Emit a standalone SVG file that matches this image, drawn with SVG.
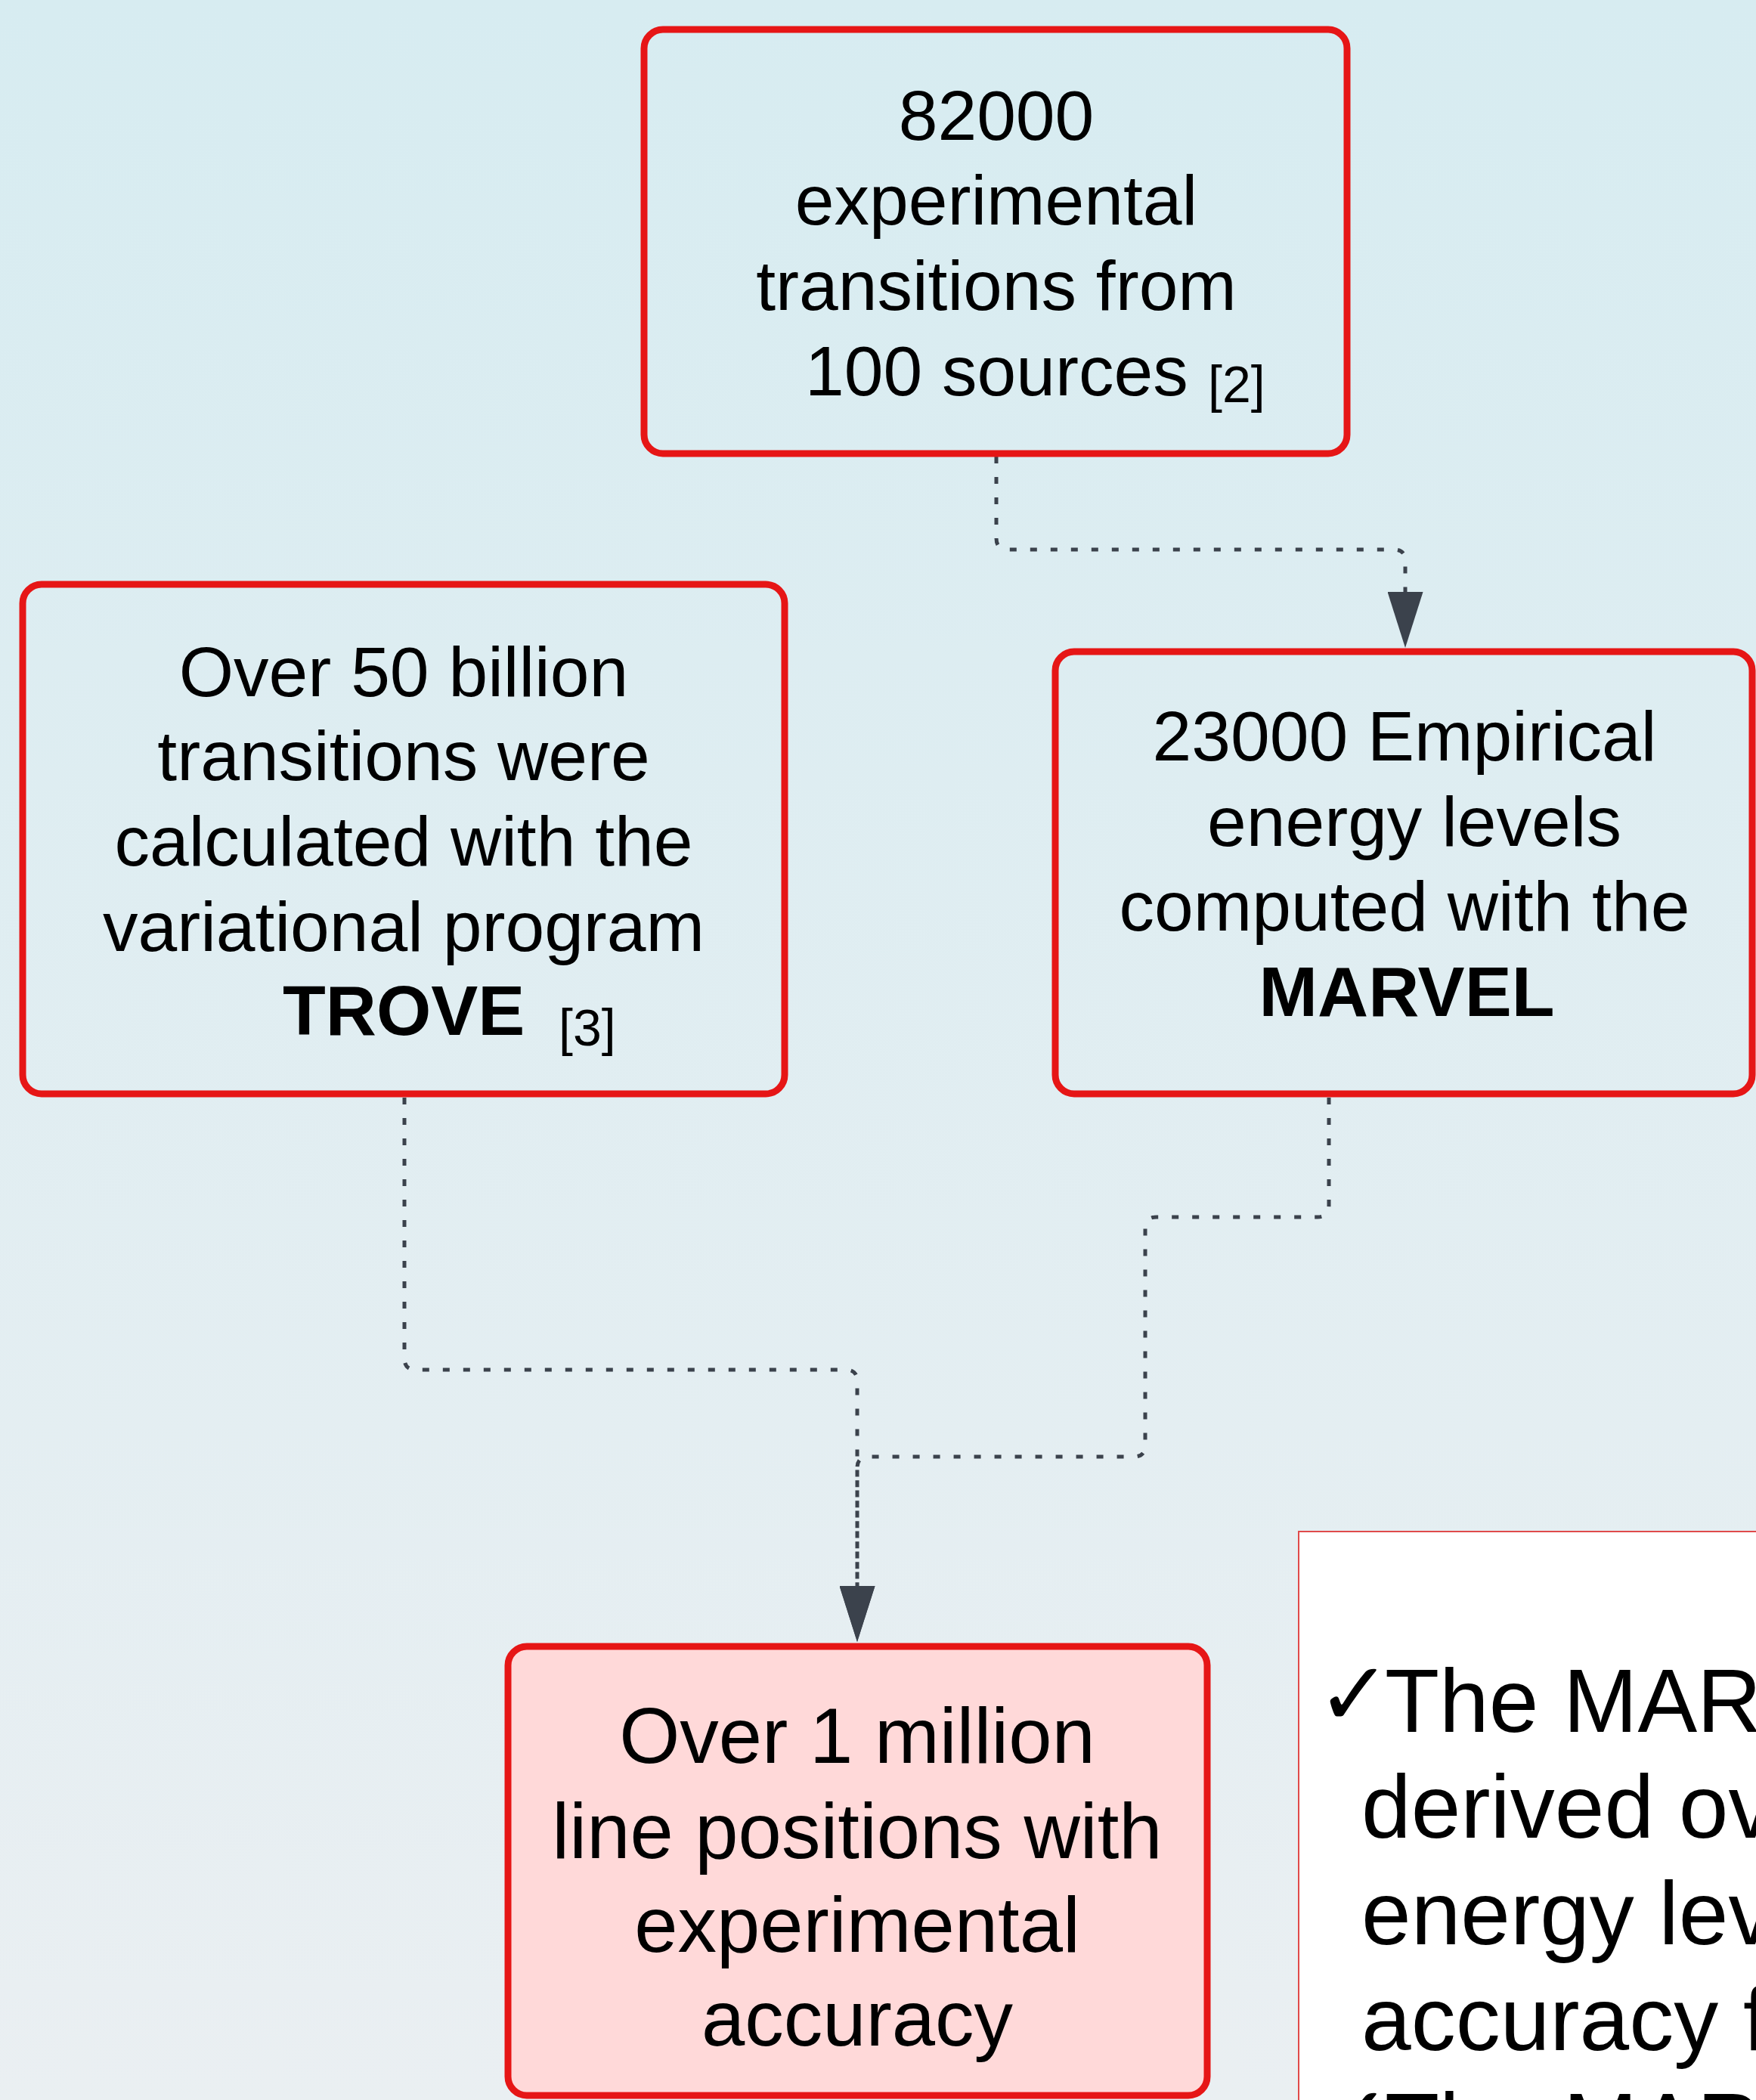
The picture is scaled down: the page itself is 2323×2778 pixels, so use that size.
<svg xmlns="http://www.w3.org/2000/svg" width="2323" height="2778" viewBox="0 0 2323 2778">
  <defs>
    <linearGradient id="bg" x1="0" y1="0" x2="0" y2="1">
      <stop offset="0" stop-color="#d7ecf1"/>
      <stop offset="1" stop-color="#eaeff2"/>
    </linearGradient>
    <marker id="arrow" markerUnits="userSpaceOnUse" viewBox="0 0 74 47" refX="0" refY="23.5" markerWidth="74" markerHeight="47" orient="auto">
      <path d="M0,0 L74,23.5 L0,47 Z" fill="#3b424c"/>
    </marker>
  </defs>
  <style>
    .node { fill: none; stroke: #e61616; stroke-width: 9; }
    .t { font-family: "Liberation Sans", Arial, sans-serif; font-size: 93px; fill: #000; text-anchor: middle; }
    .ref { font-family: "Liberation Sans", Arial, sans-serif; font-size: 68px; fill: #000; }
    .b { font-weight: bold; }
    .conn { fill: none; stroke: #3b424c; stroke-width: 5; stroke-dasharray: 9 18; }
    .note { font-family: "Liberation Sans", Arial, sans-serif; font-size: 118px; fill: #000; }
    .check { font-family: "DejaVu Sans", sans-serif; font-size: 118px; font-weight: bold; fill: #000; }
  </style>
  <rect x="0" y="0" width="2323" height="2778" fill="url(#bg)"/>

  <g id="connectors">
    <path class="conn" d="M1318,604 V712 Q1318,727 1333,727 H1844 Q1859,727 1859,742 V783" marker-end="url(#arrow)"/>
    <path class="conn" d="M535,1452 V1797 Q535,1812 550,1812 H1119 Q1134,1812 1134,1827 V2098" marker-end="url(#arrow)"/>
    <path class="conn" d="M1758,1452 V1595 Q1758,1610 1743,1610 H1530 Q1515,1610 1515,1625 V1912 Q1515,1927 1500,1927 H1149 Q1134,1927 1134,1942 V2098" marker-end="url(#arrow)"/>
  </g>

  <g id="node-experimental">
    <rect class="node" x="852" y="39" width="930" height="561" rx="25"/>
    <text class="t" x="1318" y="185">82000</text>
    <text class="t" x="1318" y="297">experimental</text>
    <text class="t" x="1318" y="410">transitions from</text>
    <text class="t" x="1065" y="523" style="text-anchor:start">100 sources</text>
    <text class="ref" x="1598" y="532">[2]</text>
  </g>

  <g id="node-trove">
    <rect class="node" x="30" y="773" width="1008" height="674" rx="25"/>
    <text class="t" x="534" y="921">Over 50 billion</text>
    <text class="t" x="534" y="1032">transitions were</text>
    <text class="t" x="534" y="1145">calculated with the</text>
    <text class="t" x="534" y="1258">variational program</text>
    <text class="t b" x="374" y="1369" style="text-anchor:start">TROVE</text>
    <text class="ref" x="739" y="1383">[3]</text>
  </g>

  <g id="node-marvel">
    <rect class="node" x="1396" y="862" width="922" height="585" rx="25"/>
    <text class="t" x="1858" y="1006">23000 Empirical</text>
    <text class="t" x="1871" y="1119">energy levels</text>
    <text class="t" x="1858" y="1231">computed with the</text>
    <text class="t b" x="1861" y="1344">MARVEL</text>
  </g>

  <g id="node-result">
    <rect class="node" x="672" y="2178" width="925" height="594" rx="25" style="fill:#ffd9d9"/>
    <text class="t" x="1134" y="2332" style="font-size:103px">Over 1 million</text>
    <text class="t" x="1134" y="2458" style="font-size:103px">line positions with</text>
    <text class="t" x="1134" y="2582" style="font-size:103px">experimental</text>
    <text class="t" x="1134" y="2706" style="font-size:103px">accuracy</text>
  </g>

  <g id="note-box">
    <rect x="1718" y="2026" width="700" height="800" fill="#ffffff" stroke="#e04a4a" stroke-width="2"/>
    <text class="check" x="1742" y="2282">✓</text>
    <text class="note" x="1832" y="2291">The MAR</text>
    <text class="note" x="1801" y="2431">derived ov</text>
    <text class="note" x="1801" y="2572">energy lev</text>
    <text class="note" x="1801" y="2712">accuracy f</text>
    <text class="check" x="1742" y="2843">✓</text>
    <text class="note" x="1832" y="2852">The MAR</text>
  </g>
</svg>
